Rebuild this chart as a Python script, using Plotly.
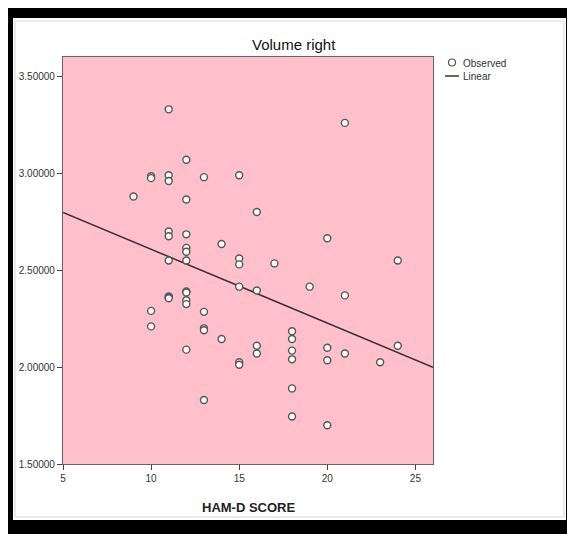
import numpy as np
import plotly.graph_objects as go

# HAM-D score (x) and right volume (y)
ham_d = [9,
         10, 10, 10, 10,
         11, 11, 11, 11, 11, 11, 11, 11, 11,
         12, 12, 12, 12, 12, 12, 12, 12, 12, 12, 12,
         13, 13, 13, 13, 13,
         14, 14,
         15, 15, 15, 15, 15, 15,
         16, 16, 16, 16,
         17,
         18, 18, 18, 18, 18, 18,
         19,
         20, 20, 20, 20,
         21, 21, 21,
         23,
         24, 24]
volume_right = [2.88,
                2.985, 2.975, 2.29, 2.21,
                3.33, 2.99, 2.96, 2.70, 2.675, 2.55, 2.365, 2.36, 2.355,
                3.07, 2.865, 2.685, 2.615, 2.595, 2.55, 2.39, 2.385, 2.345, 2.325, 2.09,
                2.98, 2.285, 2.20, 2.19, 1.83,
                2.635, 2.145,
                2.99, 2.56, 2.53, 2.415, 2.025, 2.012,
                2.80, 2.395, 2.11, 2.07,
                2.535,
                2.185, 2.145, 2.085, 2.04, 1.89, 1.745,
                2.415,
                2.665, 2.10, 2.035, 1.70,
                3.26, 2.37, 2.07,
                2.025,
                2.55, 2.11]

x_ticks = [5, 10, 15, 20, 25]
y_ticks = [1.5, 2.0, 2.5, 3.0, 3.5]
x_range = [5, 26]
y_range = [1.5, 3.6]

slope, intercept = np.polyfit(ham_d, volume_right, 1)
fit_x = np.array(x_range, dtype=float)
fit_y = intercept + slope * fit_x

# The page body has an 8px default margin, so the figure is drawn offset by 8px.
OFF = 8
W, H = 575 - OFF, 534 - OFF
L, R, T, B = 63 - OFF, 433 - OFF, 57 - OFF, 464 - OFF   # plot area in figure pixels

def px(xp):
    return (xp - OFF - L) / (R - L)

def py(yp):
    return (B - (yp - OFF)) / (B - T)

fig = go.Figure()
fig.add_trace(go.Scatter(
    x=fit_x, y=fit_y, mode="lines", name="Linear",
    line=dict(color="#333333", width=1.5), showlegend=False, hoverinfo="skip"))
fig.add_trace(go.Scatter(
    x=ham_d, y=volume_right, mode="markers", name="Observed",
    marker=dict(symbol="circle", size=7, color="#f4fff8",
                line=dict(color="#555555", width=1.4)),
    showlegend=False))

shapes = []
black = "#000000"
# outer black frame (4 bands), given in page pixels
for x0, y0, x1, y1 in [(8, 8, 575, 18), (8, 8, 13, 534), (566, 8, 575, 534), (8, 520, 575, 534)]:
    shapes.append(dict(type="rect", xref="paper", yref="paper",
                       x0=px(x0), x1=px(x1), y0=py(y1), y1=py(y0),
                       fillcolor=black, line=dict(width=0), layer="below"))
# light inner border
shapes.append(dict(type="rect", xref="paper", yref="paper",
                   x0=px(15), x1=px(564), y0=py(517), y1=py(21),
                   line=dict(color="#d8d8d8", width=1), layer="below"))
# custom legend symbols
shapes.append(dict(type="circle", xref="paper", yref="paper",
                   x0=px(448.5), x1=px(455.5), y0=py(66), y1=py(59),
                   fillcolor="#ffffff", line=dict(color="#555555", width=1.2)))
shapes.append(dict(type="line", xref="paper", yref="paper",
                   x0=px(445), x1=px(459), y0=py(76), y1=py(76),
                   line=dict(color="#333333", width=1.5)))

annotations = [
    dict(text="Observed", xref="paper", yref="paper", x=px(461), y=py(63),
         xanchor="left", yanchor="middle", showarrow=False,
         font=dict(family="Liberation Sans", size=10, color="#333333")),
    dict(text="Linear", xref="paper", yref="paper", x=px(461), y=py(76),
         xanchor="left", yanchor="middle", showarrow=False,
         font=dict(family="Liberation Sans", size=10, color="#333333")),
    dict(text="Volume right", xref="paper", yref="paper", x=px(294), y=py(45),
         xanchor="center", yanchor="middle", showarrow=False,
         font=dict(family="Liberation Sans", size=15, color="#111111")),
    dict(text="<b>HAM-D SCORE</b>", xref="paper", yref="paper", x=0.5, y=py(507),
         xanchor="center", yanchor="middle", showarrow=False,
         font=dict(family="Liberation Sans", size=13, color="#222222")),
]

fig.update_layout(
    width=W, height=H,
    margin=dict(l=L, r=W - R, t=T, b=H - B, pad=0),
    paper_bgcolor="#ffffff", plot_bgcolor="#ffc0cb",
    showlegend=False,
    shapes=shapes, annotations=annotations,
    font=dict(family="Liberation Sans", size=10, color="#333333"),
)
fig.update_xaxes(range=x_range, tickvals=x_ticks, ticks="outside", ticklen=5,
                 tickcolor="#444444", showgrid=False, zeroline=False,
                 showline=True, linecolor="#666666", linewidth=1.2, mirror=True,
                 tickfont=dict(size=10, color="#333333"))
fig.update_yaxes(range=y_range, tickvals=y_ticks, tickformat=".5f", ticks="outside",
                 ticklen=5, tickcolor="#444444", showgrid=False, zeroline=False,
                 showline=True, linecolor="#666666", linewidth=1.2, mirror=True,
                 tickfont=dict(size=10, color="#333333"))

fig.write_html("out.html")
